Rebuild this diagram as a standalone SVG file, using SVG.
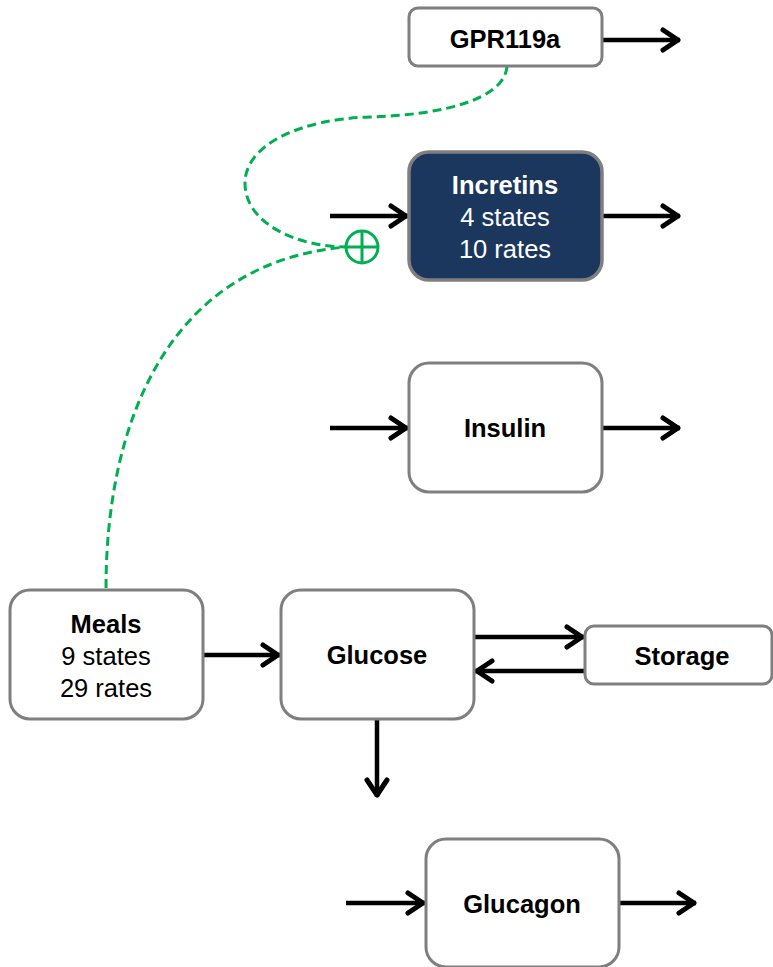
<svg xmlns="http://www.w3.org/2000/svg" width="773" height="967" viewBox="0 0 773 967">
<style>
.box{fill:#fff;stroke:#7f7f7f;stroke-width:3}
.dark{fill:#1b375d;stroke:#7f7f7f;stroke-width:3.5}
.t{font-family:"Liberation Sans",Arial,sans-serif;font-size:25.5px;text-anchor:middle;fill:#000}
.b{font-weight:bold}
.w{fill:#fff}
.arr{stroke:#000;stroke-width:4.5;fill:none;marker-end:url(#ah)}
.inh{stroke:#00b050;stroke-width:3;fill:none;stroke-dasharray:9 5}
</style>
<defs>
<marker id="ah" markerUnits="userSpaceOnUse" markerWidth="40" markerHeight="40" viewBox="-30 -20 40 40" refX="0" refY="0" orient="auto" overflow="visible">
<path d="M-17,-10 L-2,0 L-17,10" fill="none" stroke="#000" stroke-width="5" stroke-linecap="round" stroke-linejoin="round"/>
</marker>
</defs>
<g id="connectors">
<path class="arr" d="M602,40 H680"/>
<path class="arr" d="M330,216 H408"/>
<path class="arr" d="M602,216 H680"/>
<path class="arr" d="M330,428 H408"/>
<path class="arr" d="M602,428 H680"/>
<path class="arr" d="M203,655 H280"/>
<path class="arr" d="M474,637 H584"/>
<path class="arr" d="M585,671 H475"/>
<path class="arr" d="M377,719 V797"/>
<path class="arr" d="M346,903 H425"/>
<path class="arr" d="M619,903 H696"/>
<path class="inh" d="M507,66 C505,100 440,115 370,117 C300,119 245,145 245,183 C245,225 300,247 346,247"/>
<path class="inh" d="M106,588 C106,420 170,262 346,247"/>
<g id="plus">
<circle cx="362" cy="247" r="16" fill="none" stroke="#00b050" stroke-width="3"/>
<path d="M346,247 H378 M362,231 V263" stroke="#00b050" stroke-width="3"/>
</g>
</g>
<g id="gpr119a">
<rect class="box" x="409" y="8" width="193" height="58" rx="9"/>
<text class="t b" x="505" y="48">GPR119a</text>
</g>
<g id="incretins">
<rect class="dark" x="409" y="152" width="193" height="128" rx="20"/>
<text class="t b w" x="505" y="194">Incretins</text>
<text class="t w" x="505" y="226">4 states</text>
<text class="t w" x="505" y="258">10 rates</text>
</g>
<g id="insulin">
<rect class="box" x="409" y="363" width="193" height="129" rx="20"/>
<text class="t b" x="505" y="437">Insulin</text>
</g>
<g id="meals">
<rect class="box" x="10" y="590" width="193" height="129" rx="20"/>
<text class="t b" x="106" y="633">Meals</text>
<text class="t" x="106" y="665">9 states</text>
<text class="t" x="106" y="697">29 rates</text>
</g>
<g id="glucose">
<rect class="box" x="281" y="590" width="193" height="129" rx="20"/>
<text class="t b" x="377" y="664">Glucose</text>
</g>
<g id="storage">
<rect class="box" x="585" y="626" width="187" height="58" rx="9"/>
<text class="t b" x="682" y="665">Storage</text>
</g>
<g id="glucagon">
<rect class="box" x="426" y="839" width="193" height="128" rx="20"/>
<text class="t b" x="522" y="913">Glucagon</text>
</g>
</svg>
